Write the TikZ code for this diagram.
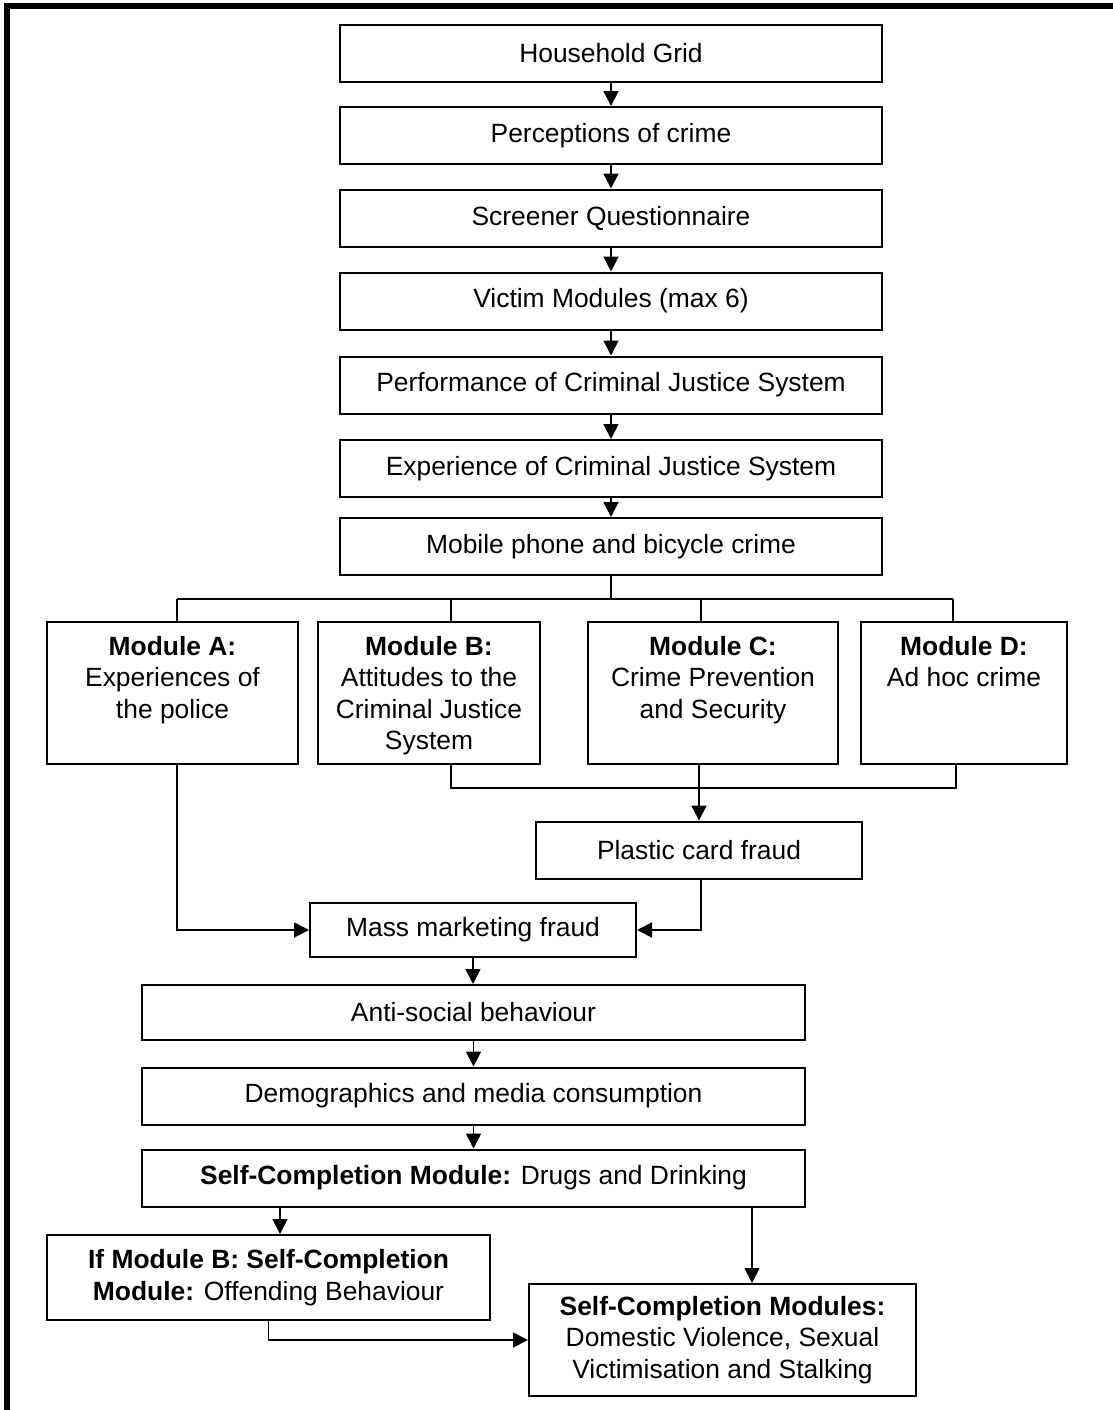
\documentclass[tikz,border=0pt]{standalone}
\usepackage{fontspec}
\setmainfont{Liberation Sans}
\usetikzlibrary{arrows.meta}
\tikzset{
  stage/.style={draw, line width=1pt, inner sep=0pt, align=center,
    minimum height=28.5pt, font=\fontsize{13.2}{15.8}\selectfont},
  module/.style={stage, minimum height=71pt},
  flow/.style={-{Triangle[length=7.5pt,width=7.5pt]}, line width=0.9pt},
  link/.style={line width=0.9pt}
}
\newcommand{\modtext}[2]{\parbox[c][71pt][t]{#1}{\centering\rule{0pt}{16.5pt}#2}}

\begin{document}
\begin{tikzpicture}[x=0.5pt, y=-0.5pt]
  \useasboundingbox (0,0) rectangle (1113,1410);
  % frame
  \draw[line width=3pt, line join=miter] (7,1410) -- (7,6) -- (1113,6);

  % main chain
  \node[stage, minimum width=271pt] (grid)   at (611,53.5)  {Household Grid};
  \node[stage, minimum width=271pt] (perc)   at (611,135.5) {Perceptions of crime};
  \node[stage, minimum width=271pt] (screen) at (611,218)   {Screener Questionnaire};
  \node[stage, minimum width=271pt] (victim) at (611,301)   {Victim Modules (max 6)};
  \node[stage, minimum width=271pt] (perf)   at (611,385)   {Performance of Criminal Justice System};
  \node[stage, minimum width=271pt] (exper)  at (611,468.5) {Experience of Criminal Justice System};
  \node[stage, minimum width=271pt] (mobile) at (611,546.5) {Mobile phone and bicycle crime};
  \draw[flow] (grid) -- (perc);
  \draw[flow] (perc) -- (screen);
  \draw[flow] (screen) -- (victim);
  \draw[flow] (victim) -- (perf);
  \draw[flow] (perf) -- (exper);
  \draw[flow] (exper) -- (mobile);

  % modules
  \node[module, minimum width=125.5pt] (modA) at (172.5,693)
    {\modtext{120pt}{\textbf{Module A:}\\Experiences of\\the police}};
  \node[module, minimum width=111pt] (modB) at (429,693)
    {\modtext{108pt}{\textbf{Module B:}\\Attitudes to the\\Criminal Justice\\System}};
  \node[module, minimum width=125pt] (modC) at (713,693)
    {\modtext{120pt}{\textbf{Module C:}\\Crime Prevention\\and Security}};
  \node[module, minimum width=103pt] (modD) at (964,693)
    {\modtext{100pt}{\textbf{Module D:}\\Ad hoc crime}};
  \draw[link] (mobile.south) -- ++(0,23) coordinate (bus);
  \draw[link] ([xshift=2.25pt]modA.north |- bus) -- ([xshift=-5.5pt]modD.north |- bus);
  \foreach \m/\dx in {modA/2.25pt, modB/11pt, modC/-6pt, modD/-5.5pt}
    \draw[link] ([xshift=\dx]\m.north |- bus) -- ([xshift=\dx]\m.north);

  % fraud
  \node[stage, minimum width=163pt] (plastic) at (699,850) {Plastic card fraud};
  \node[stage, minimum width=163pt, minimum height=27pt] (mass) at (473,930) {Mass marketing fraud};
  \draw[link] ([xshift=11pt]modB.south) -- ++(0,23) -| ([xshift=-4pt]modD.south);
  \draw[flow] (plastic.north |- modC.south) -- (plastic.north);
  \draw[flow] ([xshift=2.25pt]modA.south) |- (mass.west);
  \draw[flow] ([xshift=1pt]plastic.south) |- (mass.east);

  % lower chain
  \node[stage, minimum width=331.5pt, minimum height=27.5pt] (anti) at (473.5,1012.5) {Anti-social behaviour};
  \node[stage, minimum width=331.5pt] (demog) at (473.5,1096) {Demographics and media consumption};
  \node[stage, minimum width=331.5pt] (drugs) at (473.5,1178)
    {\textbf{Self-Completion Module:} Drugs and Drinking};
  \draw[flow] (mass.south) -- (mass.south |- anti.north);
  \draw[flow] (anti) -- (demog);
  \draw[flow] (demog) -- (drugs);

  % self-completion
  \node[stage, minimum width=221.5pt, minimum height=42.5pt] (ifB) at (268.5,1277.5)
    {\textbf{If Module B: Self-Completion}\\\textbf{Module:} Offending Behaviour};
  \node[stage, minimum width=193.5pt, minimum height=56pt] (scm) at (722.5,1340)
    {\textbf{Self-Completion Modules:}\\Domestic Violence, Sexual\\Victimisation and Stalking};
  \draw[flow] ([xshift=5.75pt]ifB.north |- drugs.south) -- ([xshift=5.75pt]ifB.north);
  \draw[flow] ([xshift=14.75pt]scm.north |- drugs.south) -- ([xshift=14.75pt]scm.north);
  \draw[flow] (ifB.south) |- (scm.west);
\end{tikzpicture}
\end{document}
